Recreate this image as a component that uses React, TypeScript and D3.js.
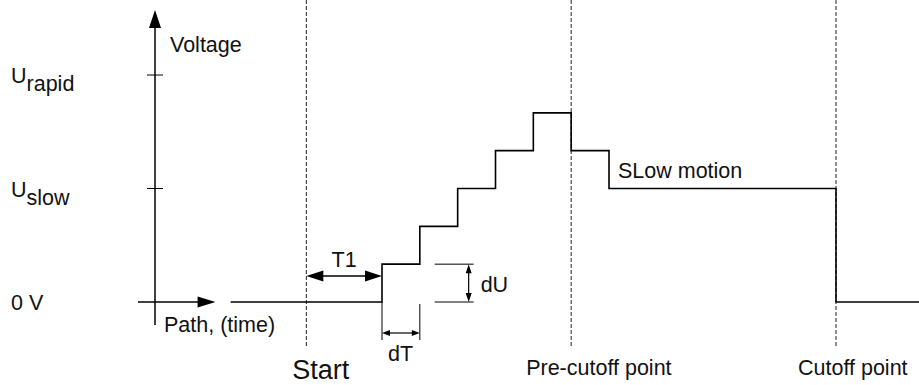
import React from "react"
import * as d3 from "d3"

// staircase signal: time (in dT units) and voltage level (in dU units)
const stepTimes = [-4, 0, 1, 2, 3, 4, 5, 6, 12, 14.5]
const stepLevels = [0, 1, 2, 3, 4, 5, 4, 3, 0, 0]

// voltage levels shown on the left
const levelNames = ["U", "U", "0 V"]
const levelSubs = ["rapid", "slow", ""]
const levelValues = [6, 3, 0]

// vertical dashed markers
const markerNames = ["Start", "Pre-cutoff point", "Cutoff point"]
const markerTimes = [-2, 5, 12]

const W = 919
const H = 385
const FONT = "'Liberation Sans', Arial, sans-serif"

const x = d3.scaleLinear().domain([-6, 12]).range([155, 836])
const y = d3.scaleLinear().domain([0, 6]).range([302, 75])

// filled arrow head pointing along (dx,dy) with tip at (tx,ty)
const head = (tx: number, ty: number, dx: number, dy: number, len: number, half: number) => {
  const l = Math.hypot(dx, dy)
  const ux = dx / l, uy = dy / l
  const bx = tx - ux * len, by = ty - uy * len
  return `${tx},${ty} ${bx - uy * half},${by + ux * half} ${bx + uy * half},${by - ux * half}`
}

export default function App() {
  const pts: [number, number][] = stepTimes.map((t, i) => [t, stepLevels[i]])
  const line = d3.line<[number, number]>()
    .x(d => x(d[0]))
    .y(d => y(d[1]))
    .curve(d3.curveStepAfter)

  const x0 = x(0), x1 = x(1), xs = x(-2)
  const t1y = 276
  const dtY = 333
  const duX = x(2) + 11

  return (
    <svg width={W} height={H} style={{ position: "absolute", left: 0, top: 0, background: "#fff" }}
      fontFamily={FONT} fill="#111">
      {/* dashed markers */}
      {markerTimes.map((t, i) => (
        <line key={markerNames[i]} x1={x(t)} x2={x(t)} y1={0} y2={348}
          stroke="#222" strokeWidth={1} strokeDasharray="4,2" />
      ))}

      {/* y axis */}
      <line x1={x(-6)} x2={x(-6)} y1={26} y2={325} stroke="#000" strokeWidth={1.5} />
      <polygon points={head(x(-6), 10, 0, -1, 18, 6)} fill="#000" />
      {levelValues.slice(0, 2).map(v => (
        <line key={v} x1={x(-6) - 8} x2={x(-6) + 8} y1={y(v)} y2={y(v)} stroke="#000" strokeWidth={1} />
      ))}

      {/* x axis */}
      <line x1={x(-6.45)} x2={x(-4.6)} y1={y(0)} y2={y(0)} stroke="#000" strokeWidth={1.5} />
      <polygon points={head(x(-4.4), y(0), 1, 0, 18, 5.5)} fill="#000" />

      {/* signal */}
      <path d={line(pts) ?? ""} fill="none" stroke="#000" strokeWidth={1.6} />

      {/* T1 */}
      <line x1={xs + 14} x2={x0 - 14} y1={t1y} y2={t1y} stroke="#000" strokeWidth={1.5} />
      <polygon points={head(xs, t1y, -1, 0, 17, 5.5)} fill="#000" />
      <polygon points={head(x0, t1y, 1, 0, 17, 5.5)} fill="#000" />
      <text x={(xs + x0) / 2} y={267} fontSize={21.5} textAnchor="middle">T1</text>

      {/* dT */}
      <line x1={x0} x2={x0} y1={y(0)} y2={340} stroke="#000" strokeWidth={1} />
      <line x1={x1} x2={x1} y1={y(0) + 2} y2={340} stroke="#000" strokeWidth={1} />
      <line x1={x0 + 6} x2={x1 - 6} y1={dtY} y2={dtY} stroke="#000" strokeWidth={1.2} />
      <polygon points={head(x0, dtY, -1, 0, 8, 3)} fill="#000" />
      <polygon points={head(x1, dtY, 1, 0, 8, 3)} fill="#000" />
      <text x={x0 + 6} y={361} fontSize={21.5}>dT</text>

      {/* dU */}
      <line x1={x(2) - 23} x2={x(2) + 16} y1={y(1)} y2={y(1)} stroke="#000" strokeWidth={1} />
      <line x1={x(2) - 23} x2={x(2) + 16} y1={y(0)} y2={y(0)} stroke="#000" strokeWidth={1} />
      <line x1={duX} x2={duX} y1={y(1) + 7} y2={y(0) - 7} stroke="#000" strokeWidth={1.2} />
      <polygon points={head(duX, y(1), 0, -1, 9, 3)} fill="#000" />
      <polygon points={head(duX, y(0), 0, 1, 9, 3)} fill="#000" />
      <text x={duX + 12} y={292} fontSize={21.5}>dU</text>

      {/* axis texts */}
      <text x={170} y={52} fontSize={21.5}>Voltage</text>
      <text x={164} y={332} fontSize={21.5}>Path, (time)</text>
      <text x={x(6) + 9} y={178} fontSize={21.5}>SLow motion</text>

      {levelValues.map((v, i) => (
        <text key={i} x={11} y={y(v) + 8} fontSize={21.5}>
          {levelNames[i]}
          {levelSubs[i] && <tspan dy={8}>{levelSubs[i]}</tspan>}
        </text>
      ))}

      {/* marker labels */}
      <text x={xs - 14} y={379} fontSize={27}>{markerNames[0]}</text>
      <text x={x(markerTimes[1]) - 45} y={375} fontSize={21.5}>{markerNames[1]}</text>
      <text x={x(markerTimes[2]) - 38} y={375} fontSize={21.5}>{markerNames[2]}</text>
    </svg>
  )
}
